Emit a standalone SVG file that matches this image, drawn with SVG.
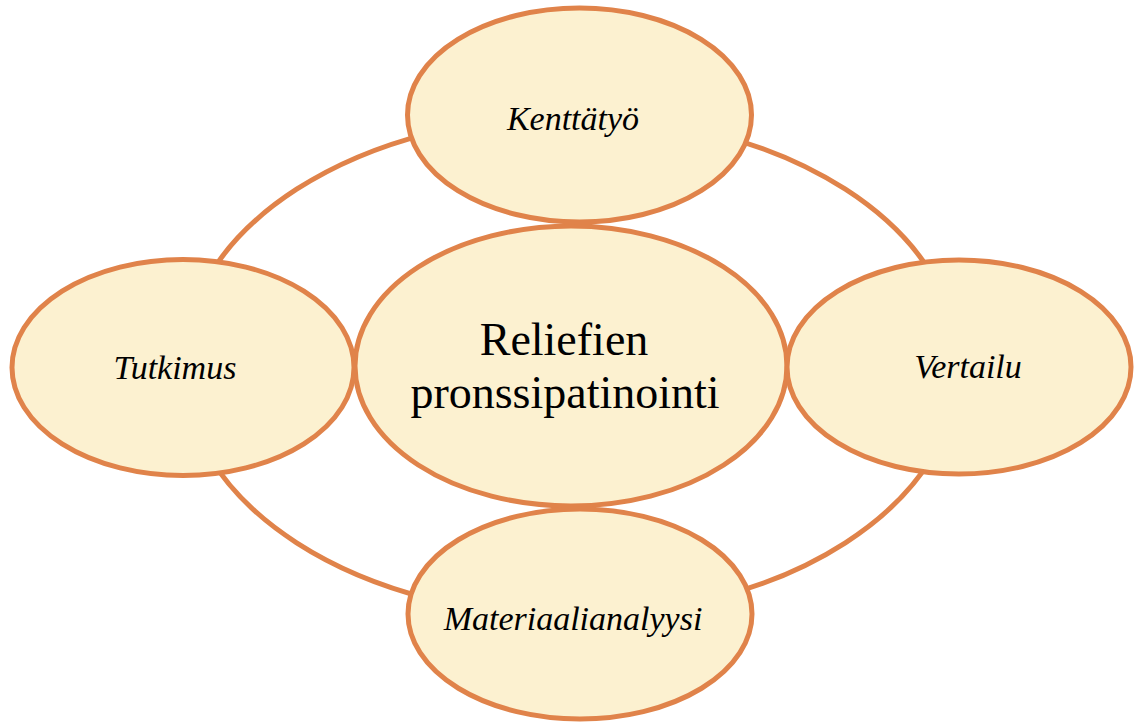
<svg xmlns="http://www.w3.org/2000/svg" width="1138" height="722" viewBox="0 0 1138 722">
<style>
.node{fill:#FCF1D0;stroke:#E0834A;stroke-width:5}
.ring{fill:none;stroke:#E0834A;stroke-width:5}
.lbl{font-family:"Liberation Serif","Times New Roman",serif;font-style:italic;font-size:34px;fill:#000;text-anchor:middle}
.main{font-family:"Liberation Serif","Times New Roman",serif;font-size:46px;fill:#000;text-anchor:middle}
</style>
<rect width="1138" height="722" fill="#fff"/>
<g id="connectors">
<ellipse class="ring" cx="571" cy="366" rx="388" ry="250"/>
</g>
<g id="center">
<ellipse class="node" cx="571" cy="366" rx="216" ry="140"/>
<text class="main" x="564" y="355">Reliefien</text>
<text class="main" x="565" y="408">pronssipatinointi</text>
</g>
<g id="kenttatyo">
<ellipse class="node" cx="579.5" cy="115" rx="172" ry="107"/>
<text class="lbl" x="573" y="130">Kenttätyö</text>
</g>
<g id="tutkimus">
<ellipse class="node" cx="183" cy="367.5" rx="171" ry="108"/>
<text class="lbl" x="175" y="379">Tutkimus</text>
</g>
<g id="vertailu">
<ellipse class="node" cx="959" cy="367" rx="172" ry="107"/>
<text class="lbl" x="968" y="378">Vertailu</text>
</g>
<g id="materiaalianalyysi">
<ellipse class="node" cx="580" cy="614" rx="172" ry="105"/>
<text class="lbl" x="573" y="630">Materiaalianalyysi</text>
</g>
</svg>
